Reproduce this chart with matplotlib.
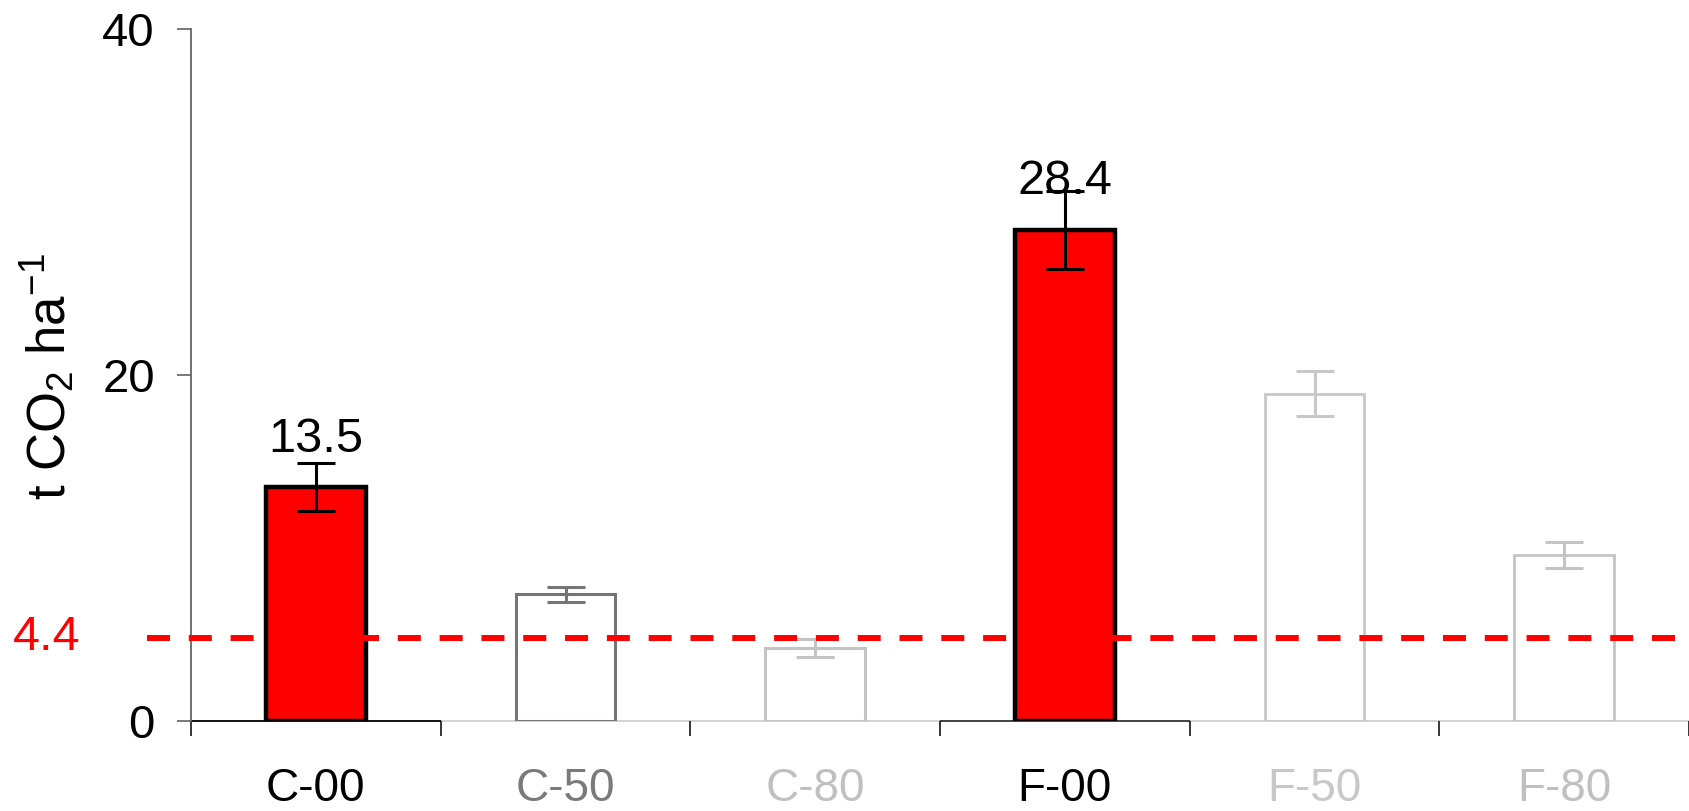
import matplotlib
matplotlib.use("Agg")
import matplotlib.pyplot as plt
import numpy as np

plt.rcParams['font.family'] = ['Liberation Sans', 'DejaVu Sans']
plt.rcParams['mathtext.fontset'] = 'custom'
plt.rcParams['mathtext.rm'] = 'Liberation Sans'
plt.rcParams['mathtext.it'] = 'Liberation Sans:italic'

# ---- data ----
categories = ['C-00', 'C-50', 'C-80', 'F-00', 'F-50', 'F-80']
values = [13.5, 7.3, 4.2, 28.4, 18.9, 9.6]
errors = [1.4, 0.43, 0.5, 2.25, 1.3, 0.75]
value_labels = ['13.5', '', '', '28.4', '', '']
threshold_value = 4.8
threshold_label = '4.4'
yticks = [0, 20, 40]

# ---- styles ----
face_colors = ['#ff0000', 'white', 'white', '#ff0000', 'white', 'white']
edge_colors = ['black', '#757575', '#c4c4c4', 'black', '#c8c8c8', '#c4c4c4']
label_colors = ['black', '#7a7a7a', '#c0c0c0', 'black', '#c8c8c8', '#c0c0c0']
axis_seg_colors = ['black', '#cfcfcf', '#cfcfcf', '#333333', '#cfcfcf', '#cfcfcf']
edge_widths = [3.2, 2.2, 2.2, 3.2, 2.0, 2.0]

W, H = 1689, 811
fig = plt.figure(figsize=(W / 100, H / 100), dpi=100)
ax = fig.add_axes([191 / W, 90.3 / H, 1498 / W, 691.7 / H])

n = len(categories)
x = np.arange(n) + 0.5

ax.bar(x, values, width=0.4, color=face_colors, edgecolor=edge_colors,
       linewidth=edge_widths, zorder=2)
for xi, v, e, c in zip(x, values, errors, edge_colors):
    ax.errorbar(xi, v, yerr=e, color=c, capsize=14, elinewidth=2.2,
                capthick=2.2, fmt='none', zorder=3)

for xi, v, e, lab in zip(x, values, errors, value_labels):
    if lab:
        ax.text(xi, v + 2.05, lab, ha='center', va='baseline', fontsize=35,
                color='black', zorder=5)

# threshold dashed line
ax.plot([-0.176, n], [threshold_value, threshold_value], color='#ff0000',
        lw=4.3, linestyle=(0, (3.85, 3.15)), clip_on=False, zorder=4,
        solid_capstyle='butt', dash_capstyle='butt')
ax.text(-0.58, threshold_value, threshold_label, color='#ff0000',
        fontsize=35, ha='center', va='center')

# axes limits
ax.set_xlim(0, n)
ax.set_ylim(0, 40)

for s in ['top', 'right', 'bottom']:
    ax.spines[s].set_visible(False)
ax.spines['left'].set_color('#666666')
ax.spines['left'].set_linewidth(1.3)

# x axis segments per category
for i in range(n):
    ax.plot([i, i + 1], [0, 0], color=axis_seg_colors[i], lw=1.3,
            clip_on=False, zorder=1, solid_capstyle='butt')

# y ticks
ax.set_yticks(yticks)
ax.set_yticklabels([str(t) for t in yticks], fontsize=34)
ax.tick_params(axis='y', length=10, width=1.1, color='#555555', pad=16)

# x ticks: labels at centers, marks at boundaries
ax.set_xticks(x)
ax.set_xticklabels(categories, fontsize=33)
for lbl, c in zip(ax.get_xticklabels(), label_colors):
    lbl.set_color(c)
ax.tick_params(axis='x', which='major', length=0, pad=33)
ax.set_xticks(np.arange(n + 1), minor=True)
ax.tick_params(axis='x', which='minor', length=11, width=1.1)
tick_colors = ['#666666', 'black'] + ['#cfcfcf'] * (n - 1)
for t, c in zip(ax.xaxis.get_minor_ticks(), tick_colors):
    t.tick1line.set_color(c)

fig.text(48 / W, 1 - 377 / H, r't CO$_2$ ha$^{-1}$', rotation=90,
         ha='center', va='center', fontsize=38)

fig.savefig('out.png', dpi=100)
